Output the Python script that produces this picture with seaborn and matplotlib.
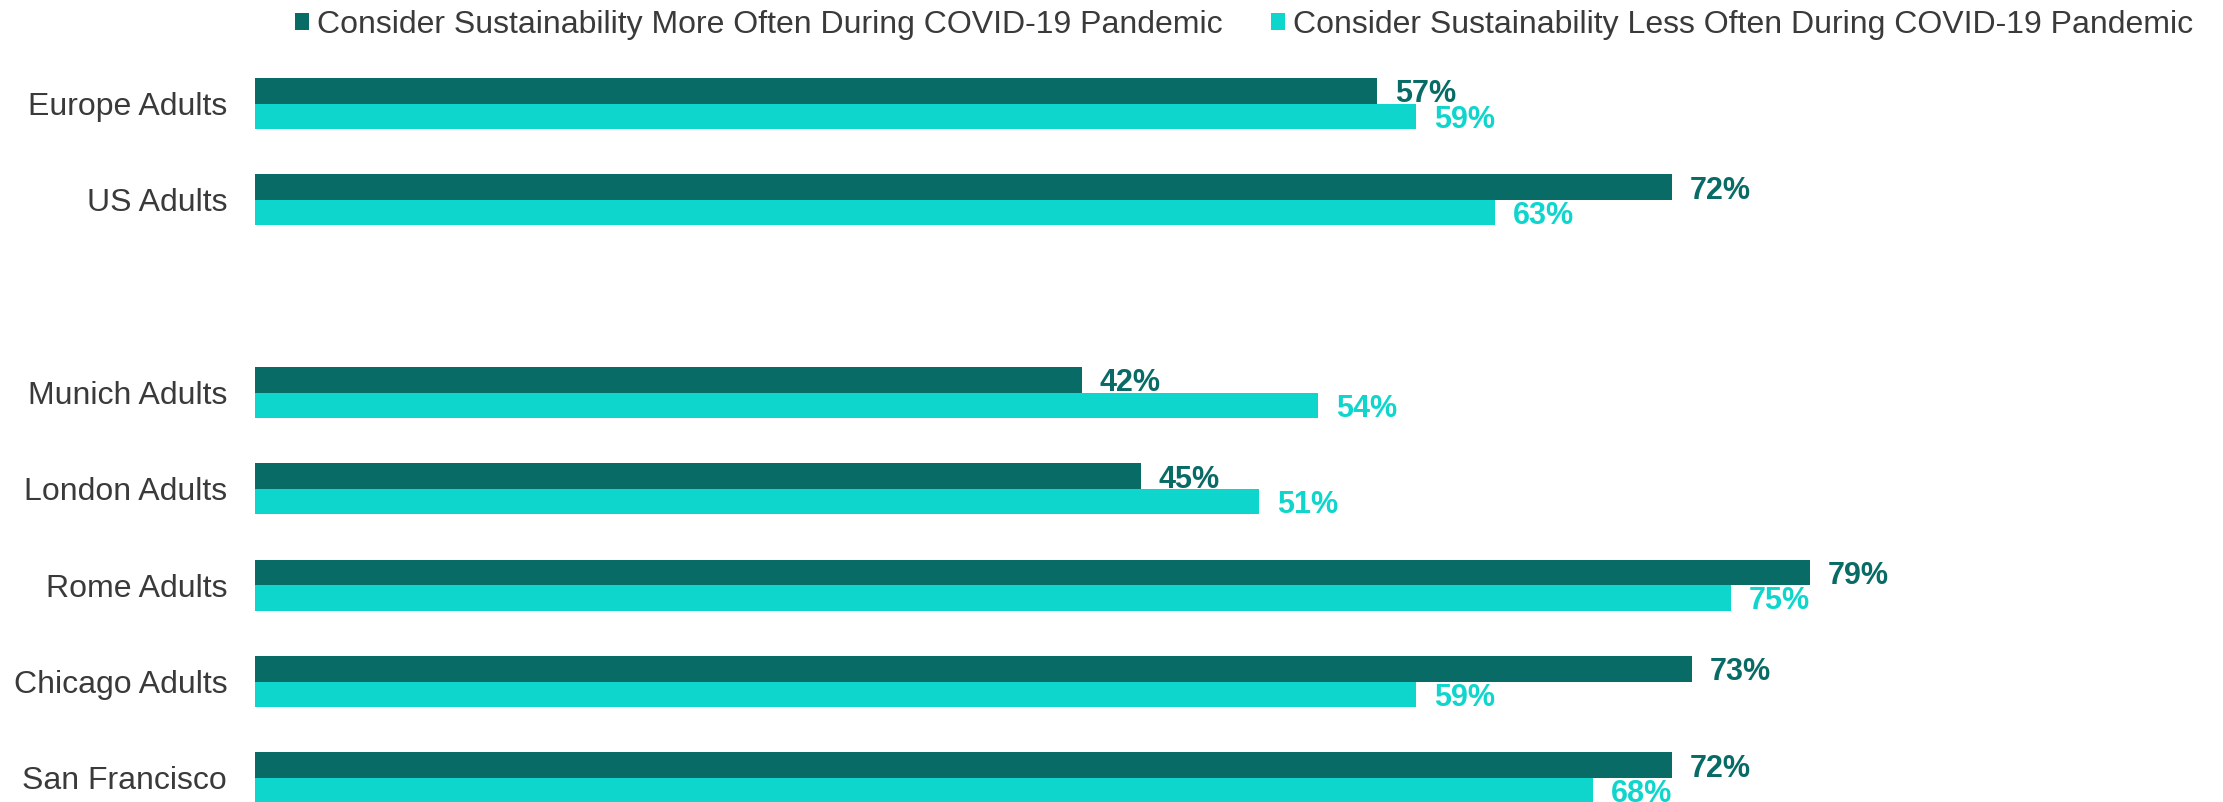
import pandas as pd
import seaborn as sns
import matplotlib.pyplot as plt
from matplotlib.patches import Patch

#Data
regions = ["Europe Adults", "US Adults", "Munich Adults", "London Adults",
           "Rome Adults", "Chicago Adults", "San Francisco"]
more_often = [57, 72, 42, 45, 79, 73, 72]
less_often = [59, 63, 54, 51, 75, 59, 68]
series = ["Consider Sustainability More Often During COVID-19 Pandemic",
          "Consider Sustainability Less Often During COVID-19 Pandemic"]
colors = ["#086B66", "#0FD6CC"]

#Blank slot between the country rows and the city rows
order = regions[:2] + [""] + regions[2:]

df = pd.DataFrame({
    "region": regions * 2,
    "pct": more_often + less_often,
    "series": [series[0]] * len(regions) + [series[1]] * len(regions),
})

sns.set_style("white")
plt.rcParams['font.family'] = ['Liberation Sans', 'DejaVu Sans']
text_col = "#3A3A3A"

fig = plt.figure(figsize=(22.23, 8.02), dpi=100)
ax = fig.add_axes([255 / 2223, 0, 1 - 255 / 2223, 0.931])

sns.barplot(data=df, y="region", x="pct", hue="series", order=order,
            hue_order=series, palette=colors, saturation=1, width=0.53,
            orient="h", legend=False, ax=ax, edgecolor="none")

for cont, c in zip(ax.containers, colors):
    labels = ax.bar_label(cont, fmt="{:.0f}%", color=c, fontsize=22,
                          fontweight="bold")
    for t in labels:
        t.xyann = (13, -2.5)

ax.set_xlim(0, 100)
ax.set_ylim(7.25, -0.5)
ax.set_xlabel("")
ax.set_ylabel("")
ax.set_xticks([])
ax.tick_params(axis="y", length=0, pad=20, labelsize=23, labelcolor=text_col)
sns.despine(ax=ax, left=True, bottom=True)

handles = [Patch(facecolor=c, edgecolor="none") for c in colors]
fig.legend(handles, series, loc="center", bbox_to_anchor=(0.5597, 0.969),
           ncol=2, frameon=False, fontsize=23, labelcolor=text_col,
           handlelength=0.45, handleheight=0.45, handletextpad=0.25,
           columnspacing=1.5, borderaxespad=0)

fig.savefig("out.png", dpi=100)
